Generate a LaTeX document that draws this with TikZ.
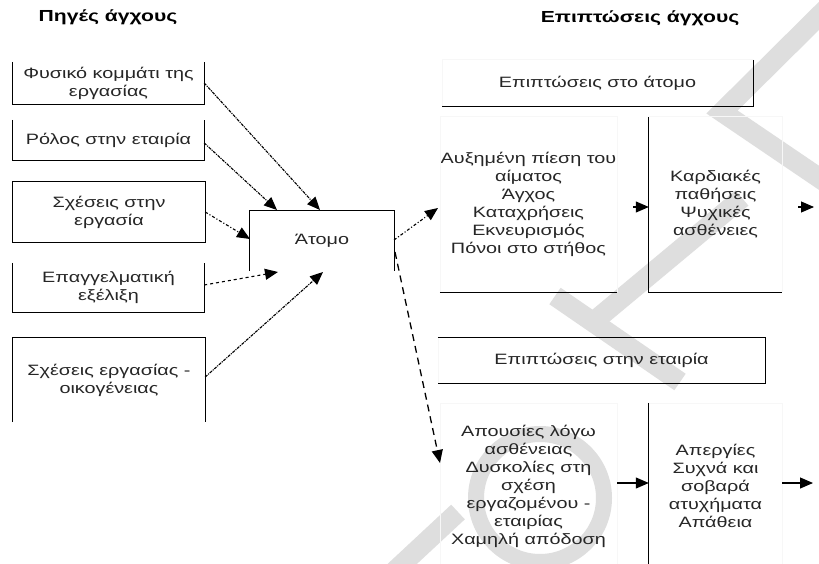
\documentclass[tikz,border=0pt]{standalone}
\usepackage{fontspec}
\setmainfont{Liberation Sans}[FakeStretch=1.32]
\usetikzlibrary{arrows.meta}
\begin{document}
\begin{tikzpicture}[x=1pt,y=-1pt,
  txt/.style={inner sep=0pt, align=center, font=\fontsize{15}{18}\selectfont, text=black!85},
  ttl/.style={inner sep=0pt, font=\fontsize{16}{18}\selectfont\bfseries},
  edge/.style={line width=1.2pt, black},
  faint/.style={line width=0.6pt, black!3},
  tip/.style={-{Triangle[length=13pt,width=11pt]}},
  flow/.style={tip, line width=1.1pt},
  mark band/.style={draw=black!13, line width=20pt},
]
\useasboundingbox (0,0) rectangle (819,564);
\clip (0,0) rectangle (819,564);
\fill[white] (0,0) rectangle (819,564);

% light grey background lettering
\draw[mark band, line width=16pt] (540,498) circle (64pt);
\draw[mark band] (385,580) -- (458,512);
\draw[mark band] (555,296) -- (680,382);
\draw[mark band] (598,318) -- (742,198);
\draw[mark band, line cap=rect] (834,1) -- (722,112) -- (834,188);

% titles
\node[ttl] (t1) at (108,17) {Πηγές άγχους};
\node[ttl] (t2) at (640,18) {Επιπτώσεις άγχους};

% sources of stress
\node[txt, minimum width=191pt, minimum height=42pt] (s1) at (108.5,83) {Φυσικό κομμάτι της\\εργασίας};
\node[txt, minimum width=191pt, minimum height=40pt] (s2) at (108.5,140) {Ρόλος στην εταιρία};
\node[txt, minimum width=192pt, minimum height=60pt] (s3) at (109,212) {Σχέσεις στην\\εργασία};
\node[txt, minimum width=191pt, minimum height=49pt] (s4) at (108.5,287.5) {Επαγγελματική\\εξέλιξη};
\node[txt, minimum width=192pt, minimum height=84pt] (s5) at (109,380) {Σχέσεις εργασίας -\\οικογένειας};

\draw[edge] (s1.north west) -- (s1.south west) -- (s1.south east) -- (s1.north east);
\draw[edge] (s2.north west) -- (s2.south west) -- (s2.south east) -- (s2.north east);
\draw[edge] (s3.north west) rectangle (s3.south east);
\draw[edge] (s4.north west) -- (s4.south west) -- (s4.south east) -- (s4.north east);
\draw[edge] (s5.south west) -- (s5.north west) -- (s5.north east) -- (s5.south east);

% the individual
\node[txt, minimum width=144pt, minimum height=60pt] (at) at (322,240.5) {Άτομο};
\draw[edge] (at.south west) -- (at.north west) -- (at.north east) -- (at.south east);

% effects
\node[txt, minimum width=311pt, minimum height=46pt] (r0) at (597.5,83) {Επιπτώσεις στο άτομο};
\node[txt, minimum width=177pt, minimum height=175pt] (r1) at (528.5,204.5) {Αυξημένη πίεση του\\αίματος\\Άγχος\\Καταχρήσεις\\Εκνευρισμός\\Πόνοι στο στήθος};
\node[txt, minimum width=133pt, minimum height=175pt] (r2) at (715.5,204.5) {Καρδιακές\\παθήσεις\\Ψυχικές\\ασθένειες};
\node[txt, minimum width=327pt, minimum height=45pt] (r3) at (601.5,360.5) {Επιπτώσεις στην εταιρία};
\node[txt, minimum width=177pt, minimum height=166pt] (r4) at (528.5,486) {Απουσίες λόγω\\ασθένειας\\Δυσκολίες στη\\σχέση\\εργαζομένου -\\εταιρίας\\Χαμηλή απόδοση};
\node[txt, minimum width=133pt, minimum height=166pt] (r5) at (715.5,486) {Απεργίες\\Συχνά και\\σοβαρά\\ατυχήματα\\Απάθεια};

\draw[faint] (r0.north east) -- (r0.north west) -- (r0.south west);
\draw[edge] (r0.north east) -- (r0.south east) -- (r0.south west);
\draw[faint] (r1.south west) -- (r1.north west) -- (r1.north east) -- (r1.south east);
\draw[edge] (r1.south west) -- (r1.south east);
\draw[faint] (r2.north west) -- (r2.north east) -- (r2.south east);
\draw[edge] (r2.north west) -- (r2.south west) -- (r2.south east);
\draw[faint] (r3.north west) -- (r3.south west);
\draw[edge] (r3.north west) -- (r3.north east) -- (r3.south east) -- (r3.south west);
\draw[faint] (r4.south west) -- (r4.north west) -- (r4.north east) -- (r4.south east);
\draw[faint] (r5.north west) -- (r5.north east) -- (r5.south east);
\draw[edge] (r5.north west) -- (r5.south west);

% arrow end points on the individual box
\coordinate (a1) at (320,210);
\coordinate (a2) at (277,210);
\coordinate (a3) at (250,239);
\coordinate (a4) at (278,272);
\coordinate (a5) at (323,272);
\coordinate (o1) at (394,240);
\coordinate (o2) at (395,252);
\coordinate (e1) at (438,208);
\coordinate (e2) at (440,463);

\draw[flow, densely dashdotted] (s1.east) -- (a1);
\draw[flow, densely dashdotted] ([yshift=-3pt]s2.east) -- (a2);
\draw[flow, dashdotted] (s3.east) -- (a3);
\draw[flow, dashed] ([yshift=2.5pt]s4.east) -- (a4);
\draw[flow, densely dashdotted] ([yshift=3pt]s5.east) -- (a5);
\draw[flow, dashdotted] (o1) -- (e1);
\draw[flow, dash pattern=on 7pt off 5pt, line width=1.3pt] (o2) -- (e2);

% solid arrows between effect columns
\coordinate (x1) at (814,207);
\coordinate (x2) at (813,483);
\draw[flow] ([xshift=16pt,yshift=-2.5pt]r1.east) -- ([yshift=-2.5pt]r2.west);
\draw[flow] ([xshift=16pt,yshift=-2.5pt]r2.east) -- (x1);
\draw[flow] ([yshift=3pt]r4.east) -- ([yshift=3pt]r5.west);
\draw[flow] ([yshift=3pt]r5.east) -- (x2);
\end{tikzpicture}
\end{document}
